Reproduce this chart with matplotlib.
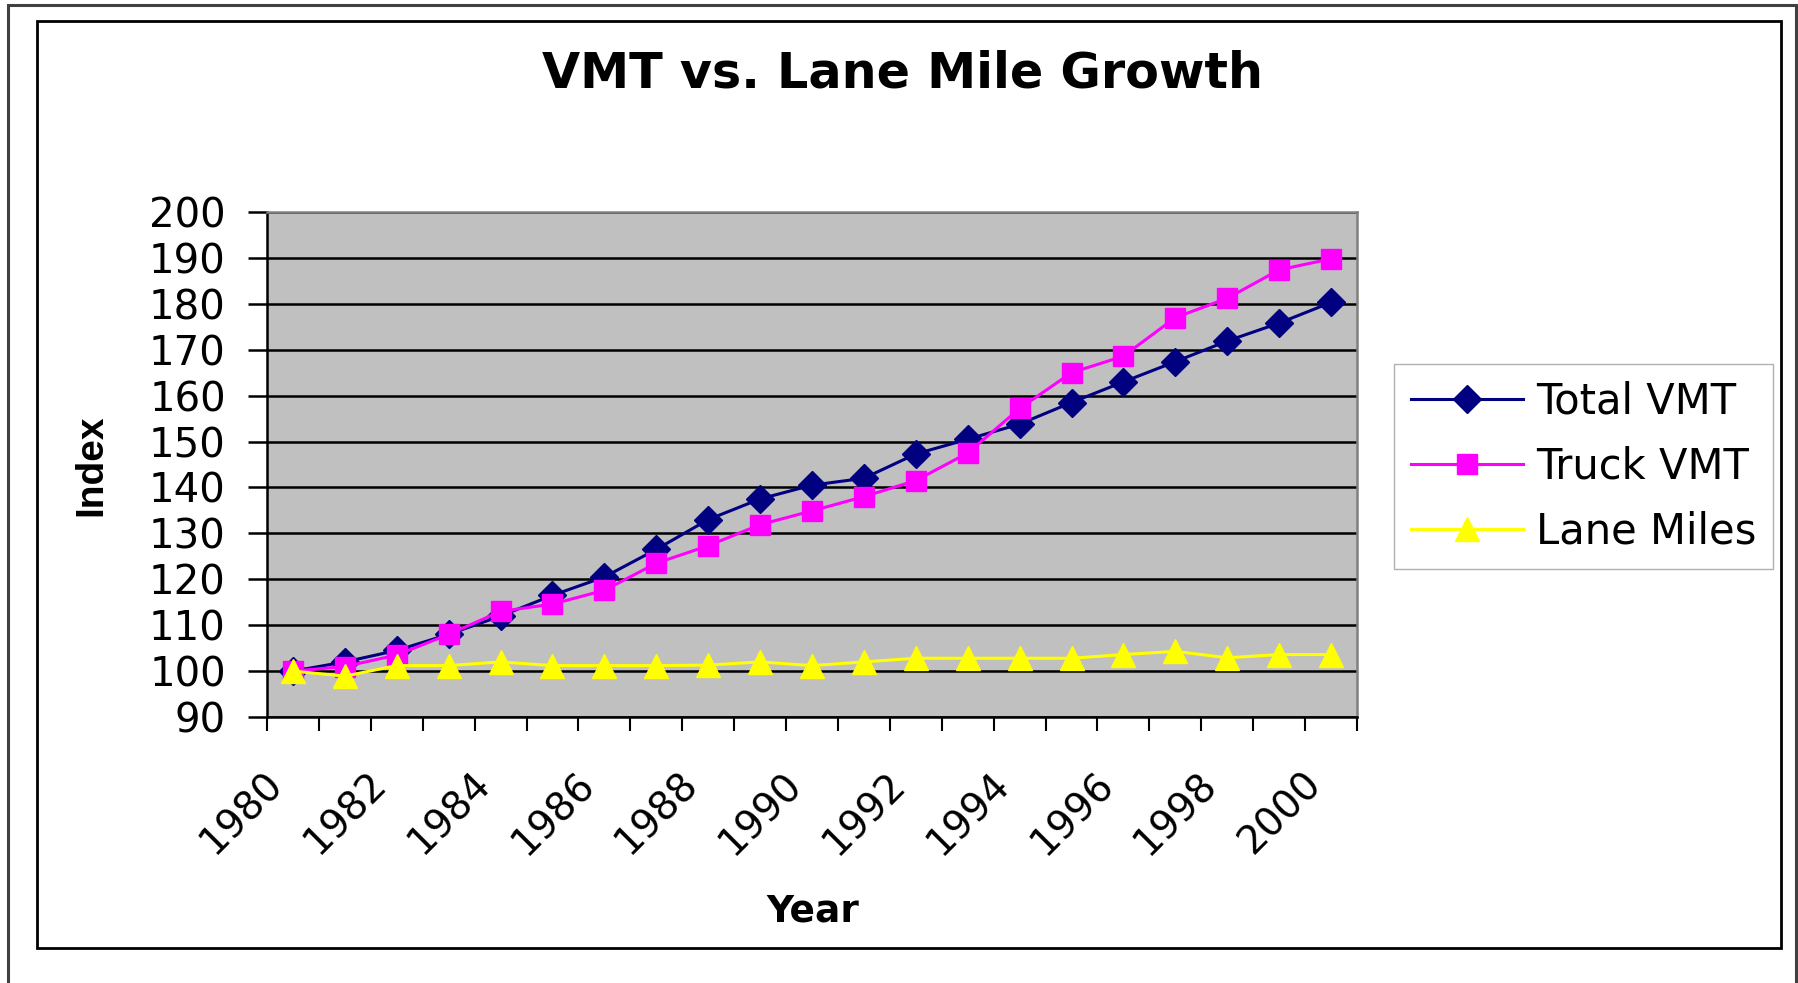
import matplotlib

matplotlib.use("Agg")
import matplotlib.pyplot as plt
import matplotlib.transforms as mtransforms
from matplotlib.patches import Rectangle
import numpy as np

# ---- data ----
years = [1980, 1981, 1982, 1983, 1984, 1985, 1986, 1987, 1988, 1989, 1990,
         1991, 1992, 1993, 1994, 1995, 1996, 1997, 1998, 1999, 2000]
total_vmt = [100, 102, 104.5, 108, 112, 116.5, 120.5, 126.5, 133, 137.5, 140.5,
             142, 147.3, 150.5, 153.8, 158.5, 163, 167.4, 171.9, 175.8, 180.3]
truck_vmt = [100, 101, 103.5, 108, 113, 114.6, 117.6, 123.5, 127.3, 131.9, 134.9,
             138, 141.5, 147.5, 157.2, 165, 168.6, 177, 181.2, 187.4, 189.8]
lane_miles = [100, 98.9, 101.2, 101.2, 102.0, 101.2, 101.2, 101.2, 101.3, 102.0, 101.2,
              102.0, 102.8, 102.8, 102.8, 102.8, 103.6, 104.3, 102.9, 103.6, 103.6]
y_ticks = [90, 100, 110, 120, 130, 140, 150, 160, 170, 180, 190, 200]

W, H = 1799, 983
fig = plt.figure(figsize=(W / 100, H / 100), dpi=100)
fig.patch.set_facecolor("white")

# plot area in pixel coords: left 267, right 1357, top 212, bottom 717
ax = fig.add_axes([267 / W, 1 - 717 / H, (1357 - 267) / W, (717 - 212) / H])
ax.set_facecolor("#c0c0c0")

x = np.arange(len(years))
ax.plot(x, total_vmt, color="#000080", lw=2.2, marker="D", ms=14,
        mfc="#000080", mec="#000080", label="Total VMT", zorder=3)
ax.plot(x, truck_vmt, color="#ff00ff", lw=2.2, marker="s", ms=15,
        mfc="#ff00ff", mec="#ff00ff", label="Truck VMT", zorder=3)
ax.plot(x, lane_miles, color="#ffff00", lw=2.2, marker="^", ms=17,
        mfc="#ffff00", mec="#ffff00", label="Lane Miles", zorder=3)

ax.set_xlim(-0.5, len(years) - 0.5)
ax.set_ylim(90, 200)
ax.set_yticks(y_ticks)
ax.set_yticklabels([str(v) for v in y_ticks], fontsize=29)
ax.tick_params(axis="y", length=13.7, width=1.8, color="black", pad=16)

# category axis: marks on the boundaries, labels every other year
ax.set_xticks(x[::2])
ax.set_xticklabels([str(y) for y in years[::2]], fontsize=28, rotation=45,
                   ha="right", va="center", rotation_mode="anchor")
ax.set_xticks(np.arange(-0.5, len(years)), minor=True)
ax.tick_params(axis="x", which="major", length=0, pad=44)
ax.tick_params(axis="x", which="minor", length=10, width=1.5, color="black")
shift = mtransforms.ScaledTranslation(-0.16, 0, fig.dpi_scale_trans)
for lbl in ax.get_xticklabels():
    lbl.set_transform(lbl.get_transform() + shift)

ax.set_axisbelow(True)
ax.yaxis.grid(True, color="black", lw=1.8)
ax.xaxis.grid(False)
for side in ("left", "bottom"):
    ax.spines[side].set_color("black")
    ax.spines[side].set_linewidth(1.8)
for side in ("top", "right"):
    ax.spines[side].set_color("#808080")
    ax.spines[side].set_linewidth(1.8)

# titles
fig.text(903 / W, 1 - 73 / H, "VMT vs. Lane Mile Growth", fontsize=35.5,
         fontweight="bold", ha="center", va="center")
fig.text(813 / W, 1 - 911 / H, "Year", fontsize=27, fontweight="bold",
         ha="center", va="center")
fig.text(91 / W, 1 - 465 / H, "Index", fontsize=28, fontweight="bold",
         family="Liberation Sans", rotation=90, ha="center", va="center")

leg = ax.legend(loc="upper left", bbox_to_anchor=(1394 / W, 1 - 364 / H),
                bbox_transform=fig.transFigure, borderaxespad=0, fontsize=30,
                frameon=True, fancybox=False, framealpha=1, borderpad=0.4,
                handlelength=2.7, handletextpad=0.3, labelspacing=0.55)
leg.get_frame().set_edgecolor("#b0b0b0")
leg.get_frame().set_linewidth(1.0)

# chart-area frame and outer page frame
fig.add_artist(Rectangle((37 / W, 1 - 948 / H), (1781 - 37) / W, (948 - 21) / H,
                         transform=fig.transFigure, fill=False, ec="black", lw=2.0))
fig.add_artist(Rectangle((8 / W, -0.05), (1796 - 8) / W, 1.05 - 5 / H,
                         transform=fig.transFigure, fill=False, ec="#404040", lw=2.2))

fig.savefig("out.png", dpi=100)
